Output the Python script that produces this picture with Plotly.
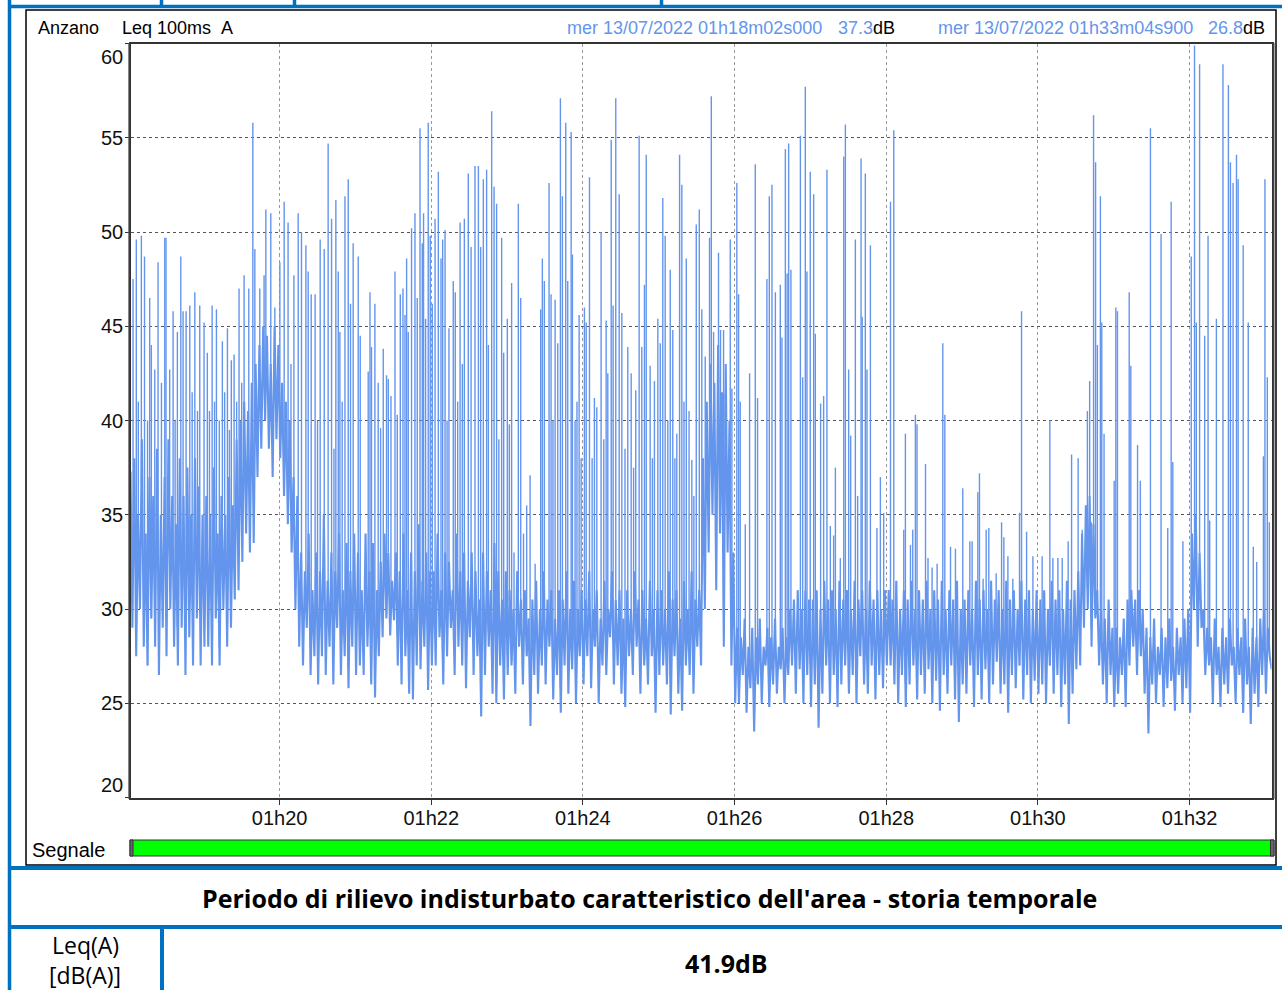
import numpy as np
import pandas as pd
import plotly.graph_objects as go

# Leq 100ms A - background level, one reading every 1.5 s, one list per minute from 01h18m02s
band_1818 = [37.3, 29, 38, 27.5, 35, 30, 39, 28, 34, 27, 37, 29.5, 36, 28, 38.5, 26.5, 35, 29, 37, 27.5,
             39, 30, 36, 28, 34.5, 27, 38, 29, 36, 26.5, 37.5, 28.5, 35, 27, 38, 29.5, 36.5, 27, 35, 28]
band_1819 = [36, 28, 35, 27, 37.5, 29.5, 34, 27, 36, 30, 35, 28, 37, 29, 35.5, 30.5, 39, 31, 40, 32.5,
             41, 34, 40.5, 33, 42, 33.5, 43, 37, 44, 38.5, 45, 40, 44.5, 38.5, 43, 37, 45, 39, 44, 38]
band_1820 = [42, 36, 41, 34.5, 40, 33, 37, 30, 36, 28, 33, 27, 32, 29, 34, 26.5, 31, 27.5, 33, 26,
             32, 27.5, 35, 26.5, 31.5, 28, 33, 26, 32, 29, 34, 26.5, 31, 27.5, 33.5, 25.8, 32, 28, 34, 26.5]
band_1821 = [33, 27, 31, 26.5, 34, 28, 32, 26, 33.5, 25.3, 31, 27.5, 32.5, 28.5, 34, 29.5, 33, 28.6, 31.5, 29.4,
             33, 27, 32, 26, 34, 27.5, 31, 25.5, 33, 25.2, 32, 27, 34.5, 26.8, 31.5, 28, 33, 25.7, 32, 27]
band_1822 = [32, 27, 34, 28.5, 31, 26, 33, 27.5, 32.5, 29, 31, 26.5, 34, 28, 32, 27, 33, 25.8, 31.5, 28.5,
             33, 26.5, 32, 27.5, 30.5, 24.3, 33, 26.5, 32, 28, 31, 25.5, 33.5, 25, 32, 27, 30.5, 25.2, 32, 26.5]
band_1823 = [31, 27, 30, 25.5, 32, 28, 30.5, 26, 31, 27.5, 29.5, 23.8, 30.5, 26.5, 31.5, 25.5, 30, 27, 32, 26,
             30.5, 28, 31, 25.2, 29.5, 26.5, 31, 24.5, 30.5, 27, 32, 25.5, 30, 26.8, 31.5, 25, 30, 27.5, 31, 26]
band_1824 = [30.5, 27.5, 32, 25.8, 30, 28, 31, 25, 29.5, 27, 31.5, 26.5, 30, 28.5, 32, 26, 30.5, 27, 31, 25.5,
             29.5, 24.8, 31, 27.5, 30, 26.5, 32, 28, 30.5, 25.5, 31, 27, 29.5, 26, 31.5, 27.5, 30, 24.5, 31, 26.5]
band_1825 = [31, 27, 30, 26, 32, 24.4, 30.5, 27.5, 31, 25.5, 29.5, 24.6, 31.5, 27, 30, 26.5, 32, 25.5, 30.5, 28,
             31, 27, 38, 30, 41, 33, 43, 35, 42, 31, 44, 34, 41.5, 28, 43, 33, 40, 27, 33, 25]
band_1826 = [29, 25, 28.5, 26.5, 29.5, 24.5, 28, 25.8, 29, 23.5, 28.5, 26, 29.5, 25, 28, 27, 29, 24.8, 28.5, 26,
             29.5, 25.5, 28, 26.8, 29, 25, 28.5, 26.5, 30, 27, 30.5, 25.5, 31, 26.8, 30, 25, 31, 26.5, 30.5, 24.8]
band_1827 = [30.5, 26, 31, 23.7, 30, 25.5, 31.5, 27, 30.5, 25, 31, 26.5, 30, 24.8, 31.5, 26, 30.5, 27, 31, 25.5,
             30, 26.5, 31.5, 25, 30.5, 27.5, 31, 26, 30, 25.5, 31.5, 27, 30.5, 25.2, 31, 26.5, 30, 25.8, 31, 27]
band_1828 = [31, 27, 30.5, 26, 31.5, 25, 30, 26.5, 31, 24.8, 30.5, 26, 31.5, 27, 30, 25.2, 31, 26.5, 30.5, 25.5,
             31.5, 26.8, 30, 25, 31, 26.2, 30.5, 24.6, 31.5, 26.5, 30, 25.5, 31, 27, 30.5, 25.2, 31.5, 24, 30, 26]
band_1829 = [30.5, 25.5, 31, 27, 30, 24.8, 31.5, 26.5, 30.5, 25.2, 31, 26.8, 30, 25, 31.5, 26, 30.5, 27.2, 31, 25.5,
             30, 26, 31.5, 24.5, 30.5, 26.5, 31, 25.8, 30, 27, 31.5, 25.2, 30.5, 26.5, 31, 25, 30, 26.2, 31, 25.5]
band_1830 = [30.5, 26, 31, 25, 30, 27, 31.5, 25.5, 30.5, 26.5, 31, 24.8, 30, 26, 31.5, 23.9, 30.5, 25.5, 31, 26.8,
             32, 27, 34, 29, 35.5, 30, 36, 28, 34.5, 29.5, 31, 27, 30, 26, 29.5, 25, 30.5, 26.5, 29, 24.8]
band_1831 = [29, 25.5, 28.5, 26.5, 29.5, 24.8, 30.5, 27, 31, 28, 30.5, 26.5, 31, 27.5, 30, 25.5, 29, 23.4, 28.5, 26,
             29.5, 25, 28, 26.5, 29, 24.8, 28.5, 25.8, 29.5, 26.2, 28, 24.6, 29, 26.5, 28.5, 25, 29.5, 25.8, 30, 24.5]
band_1832 = [34, 30, 35, 28, 33, 29, 30, 26.5, 29, 27, 28.5, 25, 29.5, 26.5, 28, 24.8, 29, 26, 28.5, 25.5,
             29.5, 27, 28, 25, 29, 26.5, 28.5, 24.5, 29.5, 26, 28, 23.9, 29, 25.5, 28.5, 24.8, 29.5, 26.5, 30, 25.5]
band_1833 = [29, 27.5, 26.8]

# short events: (second of the minute, peak dB) for each minute 01h18 ... 01h33
peaks_18 = [(4.0, 47.5), (6.6, 49.6), (8.2, 41), (10.6, 49.8), (13.1, 48.7), (15.5, 40), (17.2, 46.5),
            (18.5, 44.0), (21.2, 42.7), (23.8, 48.4), (26.5, 42), (29.1, 49.7), (30.1, 49.7), (33.0, 42.7),
            (35.7, 45.8), (37.3, 40), (39.1, 44.7), (41.8, 48.7), (43.6, 45.8), (46.0, 45.8), (48.9, 46.1),
            (50.8, 41.5), (52.9, 46.8), (55.0, 40.5), (56.8, 46.1)]
peaks_19 = [(0.2, 45.2), (2.8, 43.6), (4.5, 40.5), (6.6, 46.1), (8.5, 41), (10.0, 45.9), (12.3, 40),
            (14.7, 44.2), (16.5, 41.5), (18.7, 44.9), (20.3, 39.5), (21.8, 43.2), (24.0, 43.5), (26.0, 41),
            (27.9, 47.0), (30.0, 42), (31.9, 47.7), (35.6, 47.0), (38.8, 55.8), (40.4, 49.1), (44.3, 47.0),
            (47.7, 47.7), (49.1, 51.2), (53.0, 51.0), (56.2, 46.0)]
peaks_20 = [(0.2, 48.4), (3.6, 51.6), (6.7, 50.5), (9.0, 43), (11.3, 47.7), (14.7, 51.0), (17.3, 50.0),
            (20.8, 49.3), (22.6, 47.9), (25.0, 46.7), (28.1, 46.7), (30.0, 40), (32.1, 49.6), (35.3, 49.1),
            (38.4, 54.7), (41.1, 50.7), (43.0, 38.5), (44.5, 51.7), (46.4, 47.9), (47.7, 44.7), (49.5, 41),
            (51.7, 51.9), (54.3, 52.8), (56.1, 46.2), (58.2, 49.4)]
peaks_21 = [(2.2, 48.7), (3.8, 44.5), (10.1, 42.6), (11.5, 46.8), (12.7, 43.9), (15.4, 46.2), (18.0, 42.0),
            (19.9, 39.6), (22.0, 43.8), (24.6, 42.4), (26.0, 42.2), (28.1, 41.3), (31.3, 47.9), (33.1, 40.3),
            (35.5, 46.7), (37.6, 47.0), (39.2, 45.6), (40.5, 48.6), (41.8, 44.7), (44.4, 50.2), (47.1, 51.0),
            (48.9, 46.5), (51.1, 55.5), (52.9, 49.4), (53.9, 51.0), (55.5, 45.4), (57.6, 55.8), (59.2, 49.8)]
peaks_22 = [(0.8, 46.2), (3.0, 50.7), (5.6, 53.2), (7.7, 48.6), (9.0, 49.6), (10.9, 50.1), (12.5, 40),
            (14.0, 44.9), (17.4, 47.4), (19.0, 46.8), (20.9, 41), (22.8, 50.5), (24.6, 43.0), (26.2, 50.7),
            (29.3, 53.1), (31.5, 49.2), (34.6, 53.5), (37.3, 53.5), (39.1, 49.2), (41.2, 52.8), (43.8, 53.3),
            (45.2, 44.0), (47.8, 56.4), (49.7, 52.4), (51.7, 51.5), (53.5, 39), (55.7, 49.7), (57.3, 43.6)]
peaks_23 = [(0.2, 45.4), (1.8, 39.8), (3.6, 47.3), (5.5, 33), (8.9, 51.5), (10.8, 46.5), (13.0, 34),
            (15.5, 35.5), (18.2, 37.1), (22.2, 32.4), (26.6, 45.9), (27.9, 48.6), (29.5, 47.4), (33.2, 52.6),
            (34.8, 46.7), (36.3, 40), (38.0, 46.4), (40.1, 44.1), (42.2, 57.1), (43.8, 51.9), (46.4, 55.8),
            (48.0, 47.4), (50.7, 55.3), (51.7, 48.8), (53.8, 40), (55.3, 41), (57.0, 45.6), (58.6, 38.0)]
peaks_24 = [(1.2, 46.0), (2.6, 45.2), (5.2, 52.9), (7.3, 38), (9.1, 41.2), (11.0, 40.7), (14.4, 50.0),
            (16.5, 39), (18.4, 45.3), (19.7, 42.5), (22.4, 54.9), (23.9, 46.1), (26.0, 57.1), (28.7, 52.0),
            (30.8, 45.7), (33.3, 38.5), (35.5, 43.9), (38.2, 42.5), (40.1, 37.5), (41.8, 41.6), (44.5, 55.1),
            (46.6, 43.9), (48.7, 47.2), (50.1, 54.1), (53.2, 42.9), (55.0, 38), (56.6, 42.1), (59.3, 45.4)]
peaks_25 = [(1.2, 44.1), (3.2, 51.8), (5.1, 49.8), (7.2, 40), (9.1, 48.0), (11.1, 44.8), (12.8, 38),
            (14.3, 39.3), (16.5, 54.1), (18.3, 52.5), (20.0, 41), (21.8, 48.6), (24.0, 40.5), (26.2, 37.9),
            (27.8, 36), (29.7, 50.4), (32.1, 51.2), (34.1, 45.9), (36.8, 43.4), (40.2, 49.7), (41.6, 57.2),
            (43.4, 44.7), (47.3, 48.9), (48.9, 44.8), (51.3, 44.8), (52.6, 41.4), (56.6, 49.6), (57.9, 41.7)]
peaks_26 = [(1.8, 52.6), (3.2, 46.7), (4.5, 41.0), (8.5, 34.5), (11.9, 42.5), (16.4, 53.6), (18.2, 41.2),
            (25.6, 47.5), (27.5, 51.9), (29.6, 52.5), (32.3, 46.8), (36.2, 47.2), (37.5, 44.4), (40.2, 54.4),
            (41.6, 47.8), (42.8, 54.7), (44.6, 48.0), (52.1, 55.1), (53.9, 42.3), (56.0, 57.7), (57.3, 47.9),
            (59.9, 53.2)]
peaks_27 = [(2.6, 52.0), (3.9, 44.6), (8.1, 40.9), (10.5, 41.3), (13.1, 53.3), (15.8, 34.4), (18.4, 33.9),
            (19.8, 37.5), (23.7, 32.7), (26.4, 54.0), (27.7, 55.7), (30.3, 42.7), (31.9, 39.2), (35.6, 49.6),
            (37.4, 36.0), (40.1, 53.9), (41.0, 45.5), (43.5, 53.1), (44.8, 42.7), (47.5, 49.3), (52.7, 34.3),
            (55.4, 37.0), (58.0, 35.1)]
peaks_28 = [(3.4, 51.6), (6.0, 55.4), (13.9, 34.2), (15.2, 39.3), (19.2, 33.4), (21.0, 34.2), (23.1, 40.3),
            (24.4, 39.8), (31.1, 37.7), (33.1, 32.7), (36.3, 32.2), (40.3, 32.4), (44.8, 44.1), (46.4, 40.3),
            (50.9, 33.3), (54.8, 33.2)]
peaks_29 = [(0.6, 36.4), (6.2, 33.6), (8.0, 33.6), (12.5, 36.2), (13.8, 37.2), (16.7, 31.6), (19.1, 34.2),
            (21.2, 34.3), (27.0, 31.9), (31.3, 34.6), (33.1, 33.8), (36.3, 32.8), (40.2, 31.6), (45.5, 35.1),
            (47.1, 45.8), (51.1, 34.1), (56.1, 32.8)]
peaks_30 = [(3.4, 32.8), (9.5, 40.0), (11.9, 32.7), (15.9, 32.7), (19.3, 32.7), (24.0, 33.6), (26.7, 38.2),
            (31.9, 38.0), (35.1, 34.2), (39.2, 40.5), (41.0, 42.1), (42.3, 34.6), (44.1, 56.2), (45.7, 53.7),
            (47.1, 44.0), (49.5, 51.9), (50.6, 45.2), (52.4, 39.3)]
peaks_31 = [(0.4, 36.8), (1.7, 46.0), (3.0, 45.8), (12.3, 46.8), (13.6, 42.9), (18.9, 38.7), (21.1, 36.8),
            (29.1, 55.5), (37.5, 49.9), (42.8, 34.3), (45.5, 51.6), (46.8, 37.8), (54.8, 33.6)]
peaks_32 = [(1.4, 48.7), (4.0, 59.9), (5.4, 45.2), (8.0, 58.9), (12.0, 44.5), (14.7, 49.8), (16.0, 34.7),
            (21.3, 45.4), (26.5, 58.9), (30.8, 57.8), (32.4, 53.7), (34.5, 52.6), (37.2, 54.1), (38.5, 52.8),
            (42.5, 49.3), (46.5, 45.2), (50.5, 33.3), (53.2, 32.5), (58.5, 38.1), (59.7, 52.8)]
peaks_33 = [(1.6, 42.3), (3.2, 34.6)]

day = "2022-07-13"
t_start = "01:18:02"
t_end = "01:33:04.9"
step_s = 1.5

y_ticks = [20, 25, 30, 35, 40, 45, 50, 55, 60]
x_ticks = ["01:20", "01:22", "01:24", "01:26", "01:28", "01:30", "01:32"]

station = "Anzano"
measure = "Leq 100ms"
weighting = "A"
cursor_1 = ("mer 13/07/2022 01h18m02s000", "37.3")
cursor_2 = ("mer 13/07/2022 01h33m04s900", "26.8")
title = "Periodo di rilievo indisturbato caratteristico dell'area - storia temporale"
leq_label = ["Leq(A)", "[dB(A)]"]
leq_total = "41.9"

W, H = 1282, 990
LINE = "#6495ED"
BLUE = "#0070C0"
ARIAL = "Liberation Sans, Arial, sans-serif"
GOTHIC = "Open Sans, sans-serif"


def px(x):
    return x / W


def py(y):
    return 1 - y / H


band = (band_1818 + band_1819 + band_1820 + band_1821 + band_1822 + band_1823 + band_1824 + band_1825
        + band_1826 + band_1827 + band_1828 + band_1829 + band_1830 + band_1831 + band_1832 + band_1833)
t0 = pd.Timestamp(day + " " + t_start)
band_t = pd.date_range(t0, periods=len(band), freq=pd.Timedelta(seconds=step_s))
band_s = np.arange(len(band)) * step_s

# each event is a thin vertical stroke rising out of the background level
minute0 = pd.Timestamp(day + " 01:18:00")
peaks_by_minute = [peaks_18, peaks_19, peaks_20, peaks_21, peaks_22, peaks_23, peaks_24, peaks_25,
                   peaks_26, peaks_27, peaks_28, peaks_29, peaks_30, peaks_31, peaks_32, peaks_33]
spike_x, spike_y = [], []
for m, plist in enumerate(peaks_by_minute):
    for sec, db in plist:
        t = minute0 + pd.Timedelta(seconds=m * 60 + sec)
        base = float(np.interp((t - t0).total_seconds(), band_s, band))
        spike_x += [t, t, None]
        spike_y += [base, db, None]

fig = go.Figure()
fig.add_trace(go.Scatter(x=band_t, y=band, mode="lines",
                         line=dict(color=LINE, width=2.1), hoverinfo="skip"))
fig.add_trace(go.Scatter(x=spike_x, y=spike_y, mode="lines", connectgaps=False,
                         line=dict(color=LINE, width=1.4), hoverinfo="skip"))

shapes = []


def hline(y, x0, x1, color=BLUE, w=3.5):
    shapes.append(dict(type="line", xref="paper", yref="paper", x0=px(x0), x1=px(x1),
                       y0=py(y), y1=py(y), line=dict(color=color, width=w)))


def vline(x, y0, y1, color=BLUE, w=3.5):
    shapes.append(dict(type="line", xref="paper", yref="paper", x0=px(x), x1=px(x),
                       y0=py(y0), y1=py(y1), line=dict(color=color, width=w)))


def rect(x0, y0, x1, y1, fill="rgba(0,0,0,0)", color="#000", w=1):
    shapes.append(dict(type="rect", xref="paper", yref="paper", x0=px(x0), x1=px(x1),
                       y0=py(y1), y1=py(y0), fillcolor=fill, line=dict(color=color, width=w)))


# blue frame of the report table
vline(9.5, 0, 990)
hline(6.5, 8, 1282)
vline(161.5, 0, 6.5)
vline(294.5, 0, 6.5)
vline(661.5, 0, 6.5)
hline(868, 8, 1282, w=4)
hline(927, 8, 1282, w=4)
vline(162, 927, 990, w=4)

# chart panel
rect(26, 10, 1276, 865, w=1.5)
vline(128.8, 43, 799, color="#555", w=1)
vline(1274, 43, 799, color="#555", w=1)

# "Segnale" bar
rect(130, 840, 1274, 856, fill="#00FF00", color="#333", w=1)
rect(130, 840, 133, 856, fill="#666", color="#333", w=1)
rect(1270.5, 840, 1274, 856, fill="#666", color="#333", w=1)

annotations = []


def text(x, y, s, size=18, color="#000", anchor="left", font=ARIAL, yanchor="middle"):
    annotations.append(dict(xref="paper", yref="paper", x=px(x), y=py(y), text=s, showarrow=False,
                            xanchor=anchor, yanchor=yanchor, font=dict(family=font, size=size, color=color)))


text(36, 28, station)
text(120, 28, measure)
text(219, 28, weighting)
text(565, 28, cursor_1[0], color=LINE)
text(897, 28, cursor_1[1] + "<span style='color:#000'>dB</span>", color=LINE, anchor="right")
text(936, 28, cursor_2[0], color=LINE)
text(1267, 28, cursor_2[1] + "<span style='color:#000'>dB</span>", color=LINE, anchor="right")
text(30, 850, "Segnale", size=20)

text(650, 898, "<b>" + title + "</b>", size=25, anchor="center", font=GOTHIC)
text(85, 945, leq_label[0], size=23, anchor="center", font=GOTHIC)
text(85, 975, leq_label[1], size=23, anchor="center", font=GOTHIC)
text(726, 963, "<b>" + leq_total + "dB</b>", size=25, anchor="center", font=GOTHIC)

# y tick labels sit inside the axis range at both ends
for v in y_ticks:
    ya = "top" if v == max(y_ticks) else "bottom" if v == min(y_ticks) else "middle"
    annotations.append(dict(xref="paper", yref="y", x=px(125), y=v, text=str(v), showarrow=False,
                            xanchor="right", yanchor=ya, font=dict(family=ARIAL, size=20, color="#111")))

fig.update_layout(
    width=W, height=H, autosize=False,
    margin=dict(l=0, r=0, t=0, b=0),
    paper_bgcolor="white", plot_bgcolor="white",
    showlegend=False,
    shapes=shapes, annotations=annotations,
    xaxis=dict(
        domain=[px(130.5), px(1271.5)],
        range=[day + " " + t_start, day + " " + t_end],
        tickvals=[day + " " + t for t in x_ticks],
        ticktext=[t.replace(":", "h") for t in x_ticks],
        ticks="outside", ticklen=5, tickcolor="#333", ticklabelstandoff=-4,
        tickfont=dict(family=ARIAL, size=20, color="#111"),
        showgrid=True, gridcolor="#9a9a9a", griddash="dot", gridwidth=1,
        showline=True, linecolor="#333", linewidth=2, mirror=True,
        zeroline=False, automargin=False, fixedrange=True,
    ),
    yaxis=dict(
        domain=[py(797.5), py(43.5)],
        range=[min(y_ticks), max(y_ticks)],
        tickvals=y_ticks, showticklabels=False,
        ticks="outside", ticklen=4, tickcolor="#333",
        showgrid=True, gridcolor="#555", griddash="dot", gridwidth=1,
        showline=True, linecolor="#333", linewidth=2, mirror=True,
        zeroline=False, automargin=False, fixedrange=True,
    ),
)

fig.write_html("out.html", config=dict(displayModeBar=False),
               post_script="document.body.style.margin='0px';")
